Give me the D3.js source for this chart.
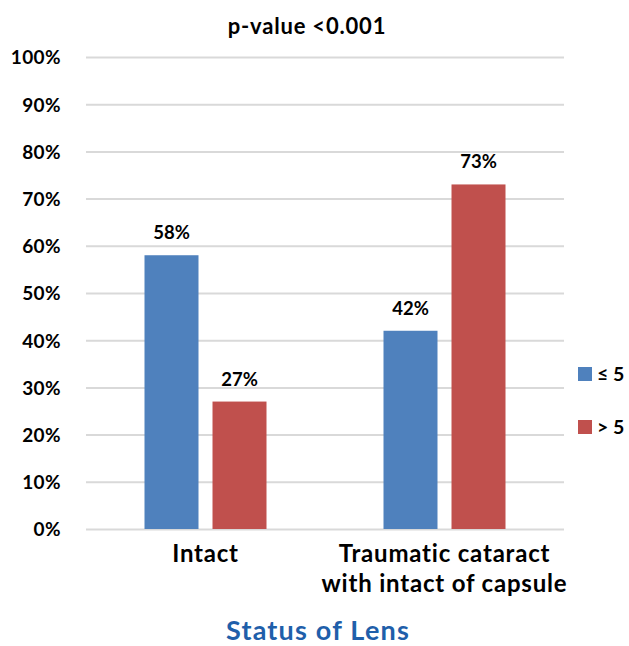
<!DOCTYPE html>
<html>
<head>
<meta charset="utf-8">
<script src="https://cdn.jsdelivr.net/npm/d3@7"></script>
<style>
  html, body { margin: 0; padding: 0; background: #fff; }
  svg { display: block; font-family: Lato, "Open Sans", sans-serif; }
</style>
</head>
<body>
<svg id="chart" width="629" height="646"></svg>
<script>
const categories = ["Intact", "Traumatic cataract with intact of capsule"];
const categoryLines = [["Intact"], ["Traumatic cataract", "with intact of capsule"]];
const seriesNames = ["≤ 5", "> 5"];
const seriesColors = ["#4F81BD", "#C0504D"];
const valuesLE5 = [58, 42];
const valuesGT5 = [27, 73];
const yTicks = [0, 10, 20, 30, 40, 50, 60, 70, 80, 90, 100];
const titleText = "p-value <0.001";
const xTitle = "Status of Lens";

const seriesValues = [valuesLE5, valuesGT5];
const svg = d3.select("#chart");

const plotLeft = 86, plotRight = 564, plotTop = 57, plotBottom = 529;
const x0 = d3.scaleBand().domain(categories).range([plotLeft, plotRight]).paddingInner(0).paddingOuter(0);
const groupW = 122;
const x1 = d3.scaleBand().domain(seriesNames).range([0, groupW]).paddingInner(0.206).paddingOuter(0);
const y = d3.scaleLinear().domain([0, 100]).range([plotBottom, plotTop]);

// gridlines
const grid = svg.append("g").attr("transform", `translate(${plotLeft},0)`)
  .call(d3.axisLeft(y).tickValues(yTicks).tickSize(-(plotRight - plotLeft)).tickFormat(""));
grid.select(".domain").remove();
grid.selectAll(".tick line").attr("stroke", "#d9d9d9").attr("stroke-width", 2);

// y axis labels
const yAxis = svg.append("g").attr("transform", `translate(61,0)`)
  .call(d3.axisLeft(y).tickValues(yTicks).tickSize(0).tickPadding(0).tickFormat(d => d + "%"));
yAxis.select(".domain").remove();
yAxis.selectAll("text")
  .attr("font-family", "Lato, sans-serif")
  .attr("font-weight", 700).attr("font-size", 19).attr("fill", "#000")
  .attr("letter-spacing", 0.4)
  .attr("dy", "0.36em");

// bars
const groups = svg.append("g").selectAll("g").data(categories).join("g")
  .attr("transform", c => `translate(${x0(c) + (x0.bandwidth() - groupW) / 2},0)`);

groups.each(function (c, ci) {
  const g = d3.select(this);
  seriesNames.forEach((s, si) => {
    const v = seriesValues[si][ci];
    g.append("rect")
      .attr("x", x1(s)).attr("width", x1.bandwidth())
      .attr("y", y(v)).attr("height", y(0) - y(v))
      .attr("fill", seriesColors[si]);
    g.append("text")
      .attr("x", x1(s) + x1.bandwidth() / 2)
      .attr("y", y(v) - 16)
      .attr("text-anchor", "middle")
      .attr("font-weight", 700).attr("font-size", 18.5).attr("fill", "#000")
      .text(v + "%");
  });
});

// category labels
svg.append("g").selectAll("text").data(categories).join("text")
  .attr("x", c => x0(c) + x0.bandwidth() / 2)
  .attr("y", 562)
  .attr("text-anchor", "middle")
  .attr("font-weight", 700).attr("font-size", 24).attr("fill", "#000")
  .attr("letter-spacing", 0.8)
  .each(function (c, i) {
    const t = d3.select(this);
    categoryLines[i].forEach((line, li) => {
      t.append("tspan").attr("x", x0(c) + x0.bandwidth() / 2)
        .attr("dy", li === 0 ? 0 : 30).text(line);
    });
  });

// title
svg.append("text").attr("x", 307).attr("y", 34)
  .attr("text-anchor", "middle").attr("font-weight", 700).attr("font-size", 22)
  .attr("letter-spacing", 0.8)
  .attr("fill", "#000").text(titleText);

// x axis title
svg.append("text").attr("x", 318).attr("y", 640)
  .attr("text-anchor", "middle").attr("font-weight", 700).attr("font-size", 27)
  .attr("letter-spacing", 1.2)
  .attr("fill", "#1F5FAA").text(xTitle);

// legend
const legend = svg.append("g").selectAll("g").data(seriesNames).join("g")
  .attr("transform", (d, i) => `translate(578,${374 + i * 53})`);
legend.append("rect").attr("x", 0).attr("y", -7).attr("width", 14).attr("height", 14)
  .attr("fill", (d, i) => seriesColors[i]);
legend.append("text").attr("x", 19).attr("y", 0).attr("dy", "0.36em")
  .attr("font-weight", 700).attr("font-size", 19.5).attr("fill", "#000")
  .text(d => d);
</script>
</body>
</html>
